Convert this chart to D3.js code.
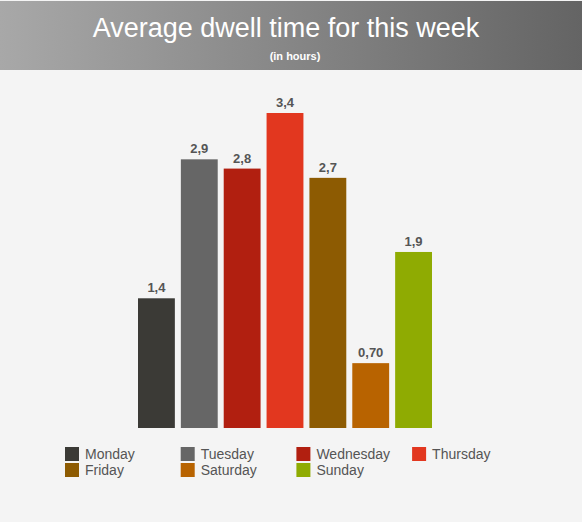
<!DOCTYPE html>
<html>
<head>
<meta charset="utf-8">
<script src="https://cdn.jsdelivr.net/npm/d3@7"></script>
<style>
  html, body { margin: 0; padding: 0; background: #f4f4f4; }
  svg { display: block; font-family: "Liberation Sans", Arial, sans-serif; }
</style>
</head>
<body>
<div id="chart"></div>
<script>
var days = ['Monday', 'Tuesday', 'Wednesday', 'Thursday', 'Friday', 'Saturday', 'Sunday'];
var hours = [1.4, 2.9, 2.8, 3.4, 2.7, 0.70, 1.9];
var labels = ['1,4', '2,9', '2,8', '3,4', '2,7', '0,70', '1,9'];
var colors = ['#3b3a36', '#666666', '#b11f10', '#e2371f', '#8d5b02', '#b86300', '#8fab02'];

var width = 582,
    height = 522;

var svg = d3.select('#chart')
    .append('svg')
    .attr('width', width)
    .attr('height', height);

svg.append('rect')
    .attr('width', width)
    .attr('height', height)
    .attr('fill', '#f4f4f4');

// header band
var grad = svg.append('defs').append('linearGradient')
    .attr('id', 'head')
    .attr('x1', '0%').attr('x2', '100%')
    .attr('y1', '0%').attr('y2', '0%');
grad.append('stop').attr('offset', '0%').attr('stop-color', '#a8a8a8');
grad.append('stop').attr('offset', '100%').attr('stop-color', '#646464');

svg.append('rect')
    .attr('x', 0).attr('y', 1)
    .attr('width', width)
    .attr('height', 69)
    .attr('fill', 'url(#head)');

svg.append('text')
    .attr('x', 286).attr('y', 37)
    .attr('text-anchor', 'middle')
    .attr('fill', '#fff')
    .style('font-family', '"Liberation Sans", Arial, sans-serif')
    .style('font-size', '27px')
    .text('Average dwell time for this week');

svg.append('text')
    .attr('x', 295).attr('y', 60)
    .attr('text-anchor', 'middle')
    .attr('fill', '#fff')
    .style('font-size', '11px')
    .style('font-weight', 'bold')
    .text('(in hours)');

// bars
var x = d3.scaleBand()
    .domain(days)
    .range([135, 435])
    .paddingInner(0.14)
    .paddingOuter(0.07);

var y = d3.scaleLinear()
    .domain([0, 3.4])
    .range([428, 113]);

var g = svg.append('g');

g.selectAll('rect.bar')
    .data(days)
    .enter().append('rect')
    .attr('class', 'bar')
    .attr('x', function(d) { return x(d); })
    .attr('width', x.bandwidth())
    .attr('y', function(d, i) { return y(hours[i]); })
    .attr('height', function(d, i) { return y(0) - y(hours[i]); })
    .attr('fill', function(d, i) { return colors[i]; });

g.selectAll('text.val')
    .data(days)
    .enter().append('text')
    .attr('class', 'val')
    .attr('x', function(d) { return x(d) + x.bandwidth() / 2; })
    .attr('y', function(d, i) { return y(hours[i]) - 6; })
    .attr('text-anchor', 'middle')
    .attr('fill', '#555')
    .style('font-size', '13px')
    .style('font-weight', 'bold')
    .text(function(d, i) { return labels[i]; });

// legend
var legend = svg.append('g')
    .selectAll('g')
    .data(days)
    .enter().append('g')
    .attr('transform', function(d, i) {
        return 'translate(' + (65 + (i % 4) * 115.7) + ',' + (447 + Math.floor(i / 4) * 16) + ')';
    });

legend.append('rect')
    .attr('width', 14)
    .attr('height', 14)
    .attr('fill', function(d, i) { return colors[i]; });

legend.append('text')
    .attr('x', 20)
    .attr('y', 12)
    .attr('fill', '#555')
    .style('font-size', '14px')
    .text(function(d) { return d; });
</script>
</body>
</html>
